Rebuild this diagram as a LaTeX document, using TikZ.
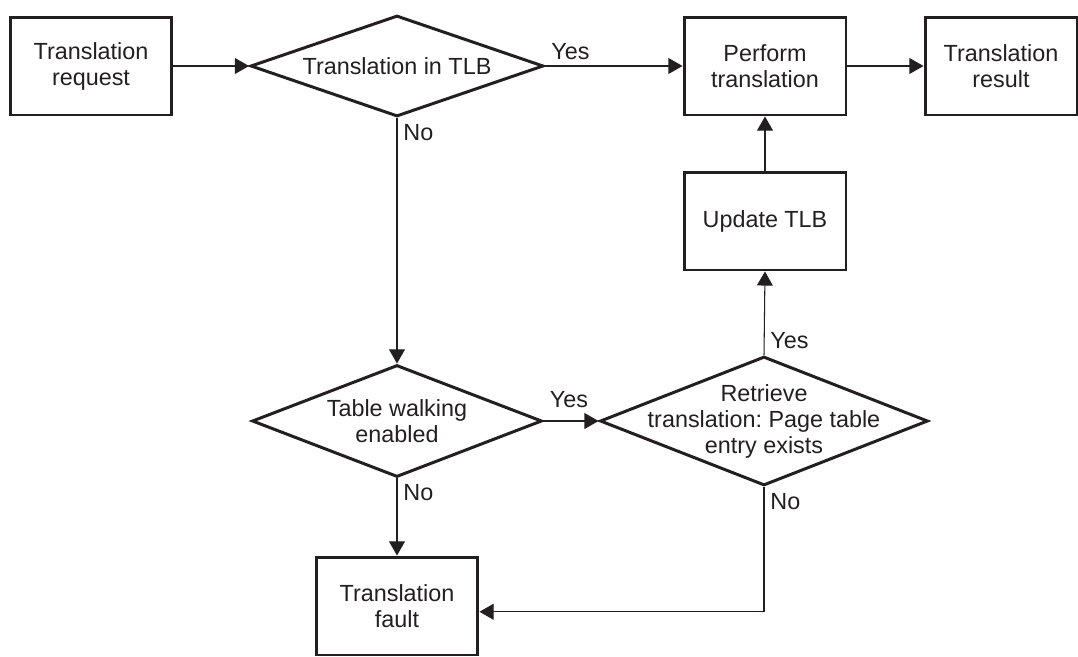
\documentclass[tikz,border=0pt]{standalone}
\usepackage{fontspec}
\setmainfont{Liberation Sans}
\usepackage{tikz}
\usetikzlibrary{arrows.meta, shapes.geometric}
\definecolor{ink}{HTML}{231F20}
\frenchspacing

\begin{document}
\begin{tikzpicture}[x=0.02cm, y=-0.02cm, color=ink,
    font=\fontsize{13.3}{14.8}\selectfont,
    box/.style={draw, line width=1.7pt, minimum width=3.24cm, minimum height=1.96cm, align=center},
    decision/.style={draw, diamond, line width=1.7pt, inner sep=0pt},
    flow/.style={-{Triangle[length=8pt, width=9pt]}, line width=0.6pt}]
    \useasboundingbox (0,0) rectangle (1078,656);
    \node[box] (req) at (91,66) {Translation\\request};
    \node[decision, minimum width=5.86cm, minimum height=2.02cm,
        label={center:Translation in TLB}] (tlb) at (397,66) {};
    \node[box] (perf) at (765,66) {Perform\\translation};
    \node[box, minimum width=3.04cm] (res) at (1001,66) {Translation\\result};
    \node[box] (upd) at (765,221) {Update TLB};
    \node[decision, minimum width=5.8cm, minimum height=2.24cm,
        label={[align=center]center:Table walking\\enabled}] (walk) at (397,421) {};
    \node[decision, minimum width=6.56cm, minimum height=2.58cm,
        label={[align=center]center:Retrieve\\translation: Page table\\entry exists}] (pte) at (764,421) {};
    \node[box] (fault) at (397,606) {Translation\\fault};
    \draw[flow] (req.east) to (tlb.west);
    \draw[flow] (tlb.east) to node[above right, pos=0] {Yes} (perf.west);
    \draw[flow] (perf.east) to (res.west);
    \draw[flow] (tlb.south) to node[below right, pos=0] {No} (walk.north);
    \draw[flow] (walk.east) to node[above right, pos=0, yshift=4pt] {Yes} (pte.west);
    \draw[flow] (walk.south) to node[below right, pos=0] {No} (fault.north);
    \draw[flow] (pte.north) to node[above right, pos=0] {Yes} (upd.south);
    \draw[flow] (upd.north) to (perf.south);
    \draw[flow] (pte.south) |- node[below right, pos=0] {No} (fault.-4);
\end{tikzpicture}
\end{document}
